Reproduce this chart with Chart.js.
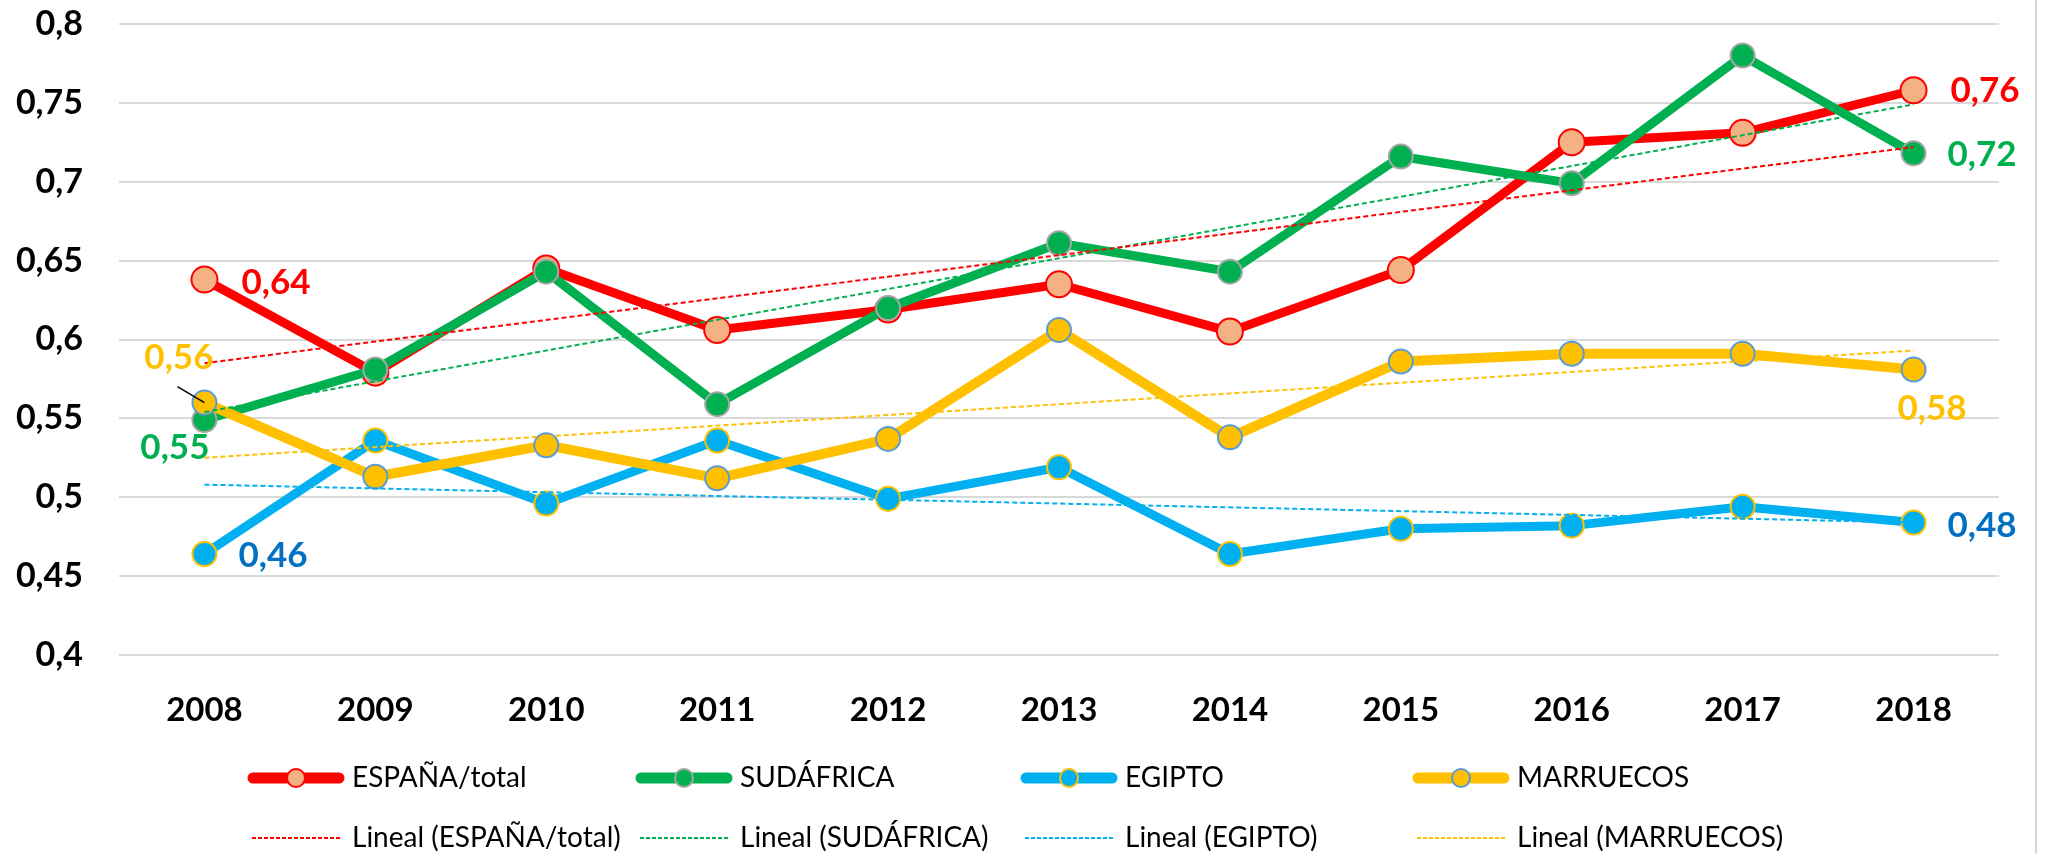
<!DOCTYPE html>
<html>
<head>
<meta charset="utf-8">
<script src="https://cdn.jsdelivr.net/npm/chart.js@4.4.1/dist/chart.umd.min.js"></script>
<style>
    html, body { margin: 0; padding: 0; background: #fff; }
    #wrap { width: 2049px; height: 854px; position: relative; }
</style>
</head>
<body>
<div id="wrap"><canvas id="chart"></canvas></div>
<script>
// values
const years = ['2008', '2009', '2010', '2011', '2012', '2013', '2014', '2015', '2016', '2017', '2018'];
const espana = [0.638, 0.579, 0.645, 0.606, 0.619, 0.635, 0.605, 0.644, 0.725, 0.731, 0.758];
const sudafrica = [0.549, 0.581, 0.643, 0.559, 0.620, 0.661, 0.643, 0.716, 0.699, 0.780, 0.718];
const egipto = [0.464, 0.536, 0.496, 0.536, 0.499, 0.519, 0.464, 0.480, 0.482, 0.494, 0.484];
const marruecos = [0.560, 0.513, 0.533, 0.512, 0.537, 0.606, 0.538, 0.586, 0.591, 0.591, 0.581];

// "Lineal" trend lines: value at 2008 and at 2018 (same order as the series)
const trendStart = [0.585, 0.554, 0.508, 0.525];
const trendEnd = [0.722, 0.749, 0.484, 0.593];

const yTicks = [0.4, 0.45, 0.5, 0.55, 0.6, 0.65, 0.7, 0.75, 0.8];

const seriesNames = ['ESPAÑA/total', 'SUDÁFRICA', 'EGIPTO', 'MARRUECOS'];
const seriesValues = [espana, sudafrica, egipto, marruecos];

const styles = [
    { line: '#FF0000', fill: '#F4B183', edge: '#FF0000', width: 9, radius: 13, label: '#FF0000' },
    { line: '#00B050', fill: '#00B050', edge: '#A5A5A5', width: 9, radius: 12, label: '#00B050' },
    { line: '#00B0F0', fill: '#00B0F0', edge: '#FFC000', width: 9, radius: 12, label: '#0070C0' },
    { line: '#FFC000', fill: '#FFC000', edge: '#5B9BD5', width: 10, radius: 12, label: '#FFC000' },
];

const fmt = (v) => String(Number(v.toFixed(2))).replace('.', ',');

const datasets = [];

seriesNames.forEach((name, k) => {
    const s = styles[k];
    datasets.push({
        label: name,
        data: seriesValues[k],
        borderColor: s.line,
        backgroundColor: s.line,
        borderWidth: s.width,
        borderJoinStyle: 'round',
        borderCapStyle: 'round',
        pointRadius: s.radius,
        pointBackgroundColor: s.fill,
        pointBorderColor: s.edge,
        pointBorderWidth: 2,
        tension: 0,
        order: 10 - k,
        legendSlot: { row: 0, col: k, kind: 'main' },
    });
});

seriesNames.forEach((name, k) => {
    const last = years.length - 1;
    datasets.push({
        label: 'Lineal (' + name + ')',
        data: years.map((_, i) => (i === 0 ? trendStart[k] : i === last ? trendEnd[k] : null)),
        spanGaps: true,
        borderColor: styles[k].line,
        borderWidth: 2,
        borderDash: [5, 3],
        pointRadius: 0,
        order: 1,
        legendSlot: { row: 1, col: k, kind: 'trend' },
    });
});

// labels next to the first and last point of each series
const labelSpots = [
    { ds: 0, i: 0, dx: 37, dy: 3, align: 'left' },
    { ds: 1, i: 0, dx: 5, dy: 28, align: 'right' },
    { ds: 3, i: 0, dx: 9, dy: -45, align: 'right', leader: true },
    { ds: 2, i: 0, dx: 34, dy: 2, align: 'left' },
    { ds: 0, i: 10, dx: 37, dy: 0, align: 'left' },
    { ds: 1, i: 10, dx: 34, dy: 1, align: 'left' },
    { ds: 2, i: 10, dx: 34, dy: 3, align: 'left' },
    { ds: 3, i: 10, dx: -16, dy: 39, align: 'left' },
];

const valueLabels = {
    id: 'valueLabels',
    afterDatasetsDraw(chart) {
        const ctx = chart.ctx;
        ctx.save();
        ctx.font = 'bold 35px Lato';
        ctx.textBaseline = 'middle';
        labelSpots.forEach((spot) => {
            const pt = chart.getDatasetMeta(spot.ds).data[spot.i];
            const value = chart.data.datasets[spot.ds].data[spot.i];
            ctx.fillStyle = styles[spot.ds].label;
            ctx.textAlign = spot.align;
            ctx.fillText(fmt(value), pt.x + spot.dx, pt.y + spot.dy);
            if (spot.leader) {
                ctx.strokeStyle = '#000';
                ctx.lineWidth = 1.5;
                ctx.beginPath();
                ctx.moveTo(pt.x - 27, pt.y - 16);
                ctx.lineTo(pt.x, pt.y);
                ctx.stroke();
            }
        });
        ctx.restore();
    },
};

const excelLegend = {
    id: 'excelLegend',
    afterDraw(chart) {
        const ctx = chart.ctx;
        const cols = [248, 636, 1021, 1413];
        const rows = [778, 838];
        ctx.save();
        chart.data.datasets.forEach((ds) => {
            const slot = ds.legendSlot;
            const x = cols[slot.col];
            const y = rows[slot.row];
            const s = styles[slot.col];
            if (slot.kind === 'main') {
                ctx.strokeStyle = s.line;
                ctx.lineWidth = 11;
                ctx.lineCap = 'round';
                ctx.beginPath();
                ctx.moveTo(x + 5, y);
                ctx.lineTo(x + 91, y);
                ctx.stroke();
                ctx.beginPath();
                ctx.arc(x + 48, y, 9, 0, Math.PI * 2);
                ctx.fillStyle = s.fill;
                ctx.fill();
                ctx.lineWidth = 2;
                ctx.strokeStyle = s.edge;
                ctx.stroke();
            } else {
                ctx.strokeStyle = s.line;
                ctx.lineWidth = 2;
                ctx.lineCap = 'butt';
                ctx.setLineDash([4, 2]);
                ctx.beginPath();
                ctx.moveTo(x + 4, y);
                ctx.lineTo(x + 92, y);
                ctx.stroke();
                ctx.setLineDash([]);
            }
            ctx.fillStyle = '#000';
            ctx.font = '28px Lato';
            ctx.textAlign = 'left';
            ctx.textBaseline = 'middle';
            ctx.fillText(ds.label, x + 104, y);
        });
        // thin frame line on the right edge
        ctx.strokeStyle = '#D9D9D9';
        ctx.lineWidth = 2;
        ctx.beginPath();
        ctx.moveTo(2036, 0);
        ctx.lineTo(2036, chart.height);
        ctx.stroke();
        ctx.restore();
    },
};

new Chart(document.getElementById('chart'), {
    type: 'line',
    data: { labels: years, datasets },
    options: {
        responsive: true,
        maintainAspectRatio: false,
        animation: false,
        layout: { padding: { top: 24, right: 50, left: 0, bottom: 0 } },
        plugins: {
            legend: { display: false },
            tooltip: { enabled: false },
        },
        scales: {
            x: {
                offset: true,
                grid: { display: false },
                border: { display: false },
                ticks: { color: '#000', font: { family: 'Lato', size: 33, weight: 'bold' }, padding: 28 },
                afterFit: (scale) => { scale.height = 199; },
            },
            y: {
                min: 0.4,
                max: 0.8,
                afterBuildTicks: (scale) => { scale.ticks = yTicks.map((v) => ({ value: v })); },
                ticks: {
                    color: '#000',
                    font: { family: 'Lato', size: 34, weight: 'bold' },
                    padding: 36,
                    callback: (v) => fmt(v),
                },
                grid: { color: '#D9D9D9', lineWidth: 2, drawTicks: false },
                border: { display: false },
                afterFit: (scale) => {
                    scale.width = 119;
                    scale.paddingTop = 0;
                    scale.paddingBottom = 0;
                },
            },
        },
    },
    plugins: [valueLabels, excelLegend],
});
</script>
</body>
</html>
